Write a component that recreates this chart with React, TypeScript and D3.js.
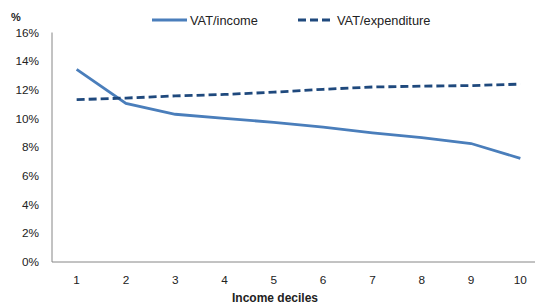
import { useEffect, useRef } from "react";
import * as d3 from "d3";

const deciles = ["1", "2", "3", "4", "5", "6", "7", "8", "9", "10"];
const vatIncome = [13.43, 11.06, 10.3, 10.02, 9.73, 9.4, 9.0, 8.67, 8.26, 7.23];
const vatExpenditure = [11.32, 11.43, 11.58, 11.68, 11.84, 12.04, 12.2, 12.26, 12.3, 12.4];
const yTicks = [0, 2, 4, 6, 8, 10, 12, 14, 16];

const App = () => {
    const ref = useRef<SVGSVGElement>(null);

    useEffect(() => {
        const svg = d3.select(ref.current);
        svg.selectAll("*").remove();

        const font = "'Liberation Sans', Arial, sans-serif";
        const left = 52, right = 545, top = 32.5, bottom = 262;

        const x = d3.scaleBand().domain(deciles).range([left, right]);
        const y = d3.scaleLinear().domain([0, 16]).range([bottom, top]);
        const cx = (d: string) => (x(d) as number) + x.bandwidth() / 2;

        // axes
        svg.append("line")
            .attr("x1", left).attr("x2", left)
            .attr("y1", top).attr("y2", bottom)
            .attr("stroke", "#868686").attr("stroke-width", 1);
        svg.append("line")
            .attr("x1", left).attr("x2", right)
            .attr("y1", bottom).attr("y2", bottom)
            .attr("stroke", "#868686").attr("stroke-width", 1);

        svg.selectAll(".ytick")
            .data(yTicks)
            .enter().append("text")
            .attr("x", 39)
            .attr("y", d => y(d) + 4)
            .attr("text-anchor", "end")
            .attr("font-family", font)
            .attr("font-size", "11.8px")
            .attr("fill", "#222")
            .text(d => `${d}%`);

        svg.selectAll(".xtick")
            .data(deciles)
            .enter().append("text")
            .attr("x", d => cx(d))
            .attr("y", 284)
            .attr("text-anchor", "middle")
            .attr("font-family", font)
            .attr("font-size", "11.8px")
            .attr("fill", "#222")
            .text(d => d);

        svg.append("text")
            .attr("x", 275).attr("y", 302)
            .attr("text-anchor", "middle")
            .attr("font-family", font)
            .attr("font-size", "12px")
            .attr("font-weight", "bold")
            .attr("fill", "#222")
            .text("Income deciles");

        svg.append("text")
            .attr("x", 11).attr("y", 21)
            .attr("font-family", font)
            .attr("font-size", "11px")
            .attr("font-weight", "bold")
            .attr("fill", "#222")
            .text("%");

        const line = d3.line<number>()
            .x((_, i) => cx(deciles[i]))
            .y(d => y(d));

        svg.append("path")
            .datum(vatIncome)
            .attr("d", line)
            .attr("fill", "none")
            .attr("stroke", "#4A7EBB")
            .attr("stroke-width", 2.8);

        svg.append("path")
            .datum(vatExpenditure)
            .attr("d", line)
            .attr("fill", "none")
            .attr("stroke", "#1F497D")
            .attr("stroke-width", 2.8)
            .attr("stroke-dasharray", "8,4");

        // legend
        svg.append("line")
            .attr("x1", 152).attr("x2", 187)
            .attr("y1", 20).attr("y2", 20)
            .attr("stroke", "#4A7EBB").attr("stroke-width", 2.8);
        svg.append("text")
            .attr("x", 190).attr("y", 24.5)
            .attr("font-family", font)
            .attr("font-size", "12.8px")
            .attr("fill", "#222")
            .text("VAT/income");

        svg.append("line")
            .attr("x1", 298).attr("x2", 331)
            .attr("y1", 20).attr("y2", 20)
            .attr("stroke", "#1F497D").attr("stroke-width", 2.8)
            .attr("stroke-dasharray", "8,4");
        svg.append("text")
            .attr("x", 337).attr("y", 24.5)
            .attr("font-family", font)
            .attr("font-size", "12.8px")
            .attr("fill", "#222")
            .text("VAT/expenditure");
    }, []);

    return (
        <svg
            ref={ref}
            width={535}
            height={307}
            style={{ position: "absolute", left: 0, top: 0, background: "#fff" }}
        />
    );
};

export default App;
